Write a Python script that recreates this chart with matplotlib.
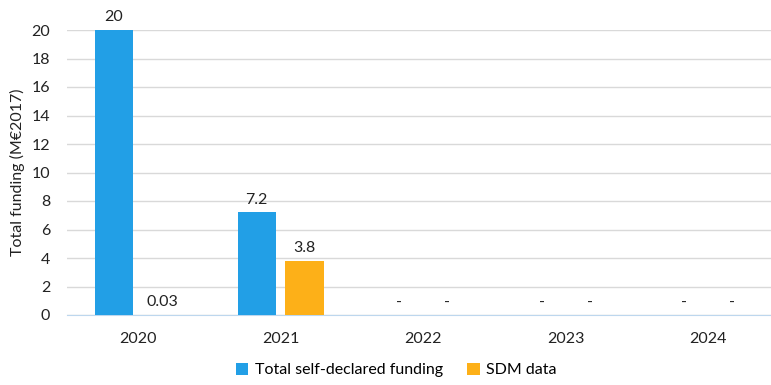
import numpy as np
import matplotlib.pyplot as plt

plt.rcParams['font.family'] = ['Lato', 'DejaVu Sans']

# Funding per year (M€2017)
years = ['2020', '2021', '2022', '2023', '2024']
self_declared = [20, 7.2, 0, 0, 0]
sdm_data = [0.03, 3.8, 0, 0, 0]
self_labels = ['20', '7.2', '-', '-', '-']
sdm_labels = ['0.03', '3.8', '-', '-', '-']

blue = '#229FE6'
orange = '#FDB018'

fig = plt.figure(figsize=(7.71, 3.85), dpi=100)
ax = fig.add_axes([67 / 771, 1 - 315 / 385, 1 - 67 / 771, (315 - 30) / 385])

x = np.arange(len(years))
w = 0.267
off = 0.168
b1 = ax.bar(x - off, self_declared, w, color=blue, label='Total self-declared funding', zorder=3)
b2 = ax.bar(x + off, sdm_data, w, color=orange, label='SDM data', zorder=3)

ax.bar_label(b1, labels=self_labels, padding=4, fontsize=11.5, color='#222222')
ax.bar_label(b2, labels=sdm_labels, padding=4, fontsize=11.5, color='#222222')

ax.set_ylim(0, 20)
ax.set_yticks(range(0, 21, 2))
ax.set_xlim(-0.498, 4.44)
ax.set_xticks(x)
ax.set_xticklabels(years)
ax.grid(axis='y', color='#D9D9D9', linewidth=1, zorder=0)
for s in ['top', 'right', 'left']:
    ax.spines[s].set_visible(False)
ax.spines['bottom'].set_color('#BDD7EE')
ax.tick_params(axis='both', length=0, labelsize=11.5, colors='#222222')
ax.tick_params(axis='x', pad=12)
ax.tick_params(axis='y', pad=12)
ax.set_ylabel('Total funding (M€2017)', fontsize=11.5, color='#222222', labelpad=5)

fig.legend(loc='center', bbox_to_anchor=(396 / 771, 1 - 370 / 385), ncol=2,
           frameon=False, fontsize=11.5, handlelength=0.8, handleheight=0.8,
           handletextpad=0.4, columnspacing=1.5)

fig.savefig('out.png', dpi=100)
